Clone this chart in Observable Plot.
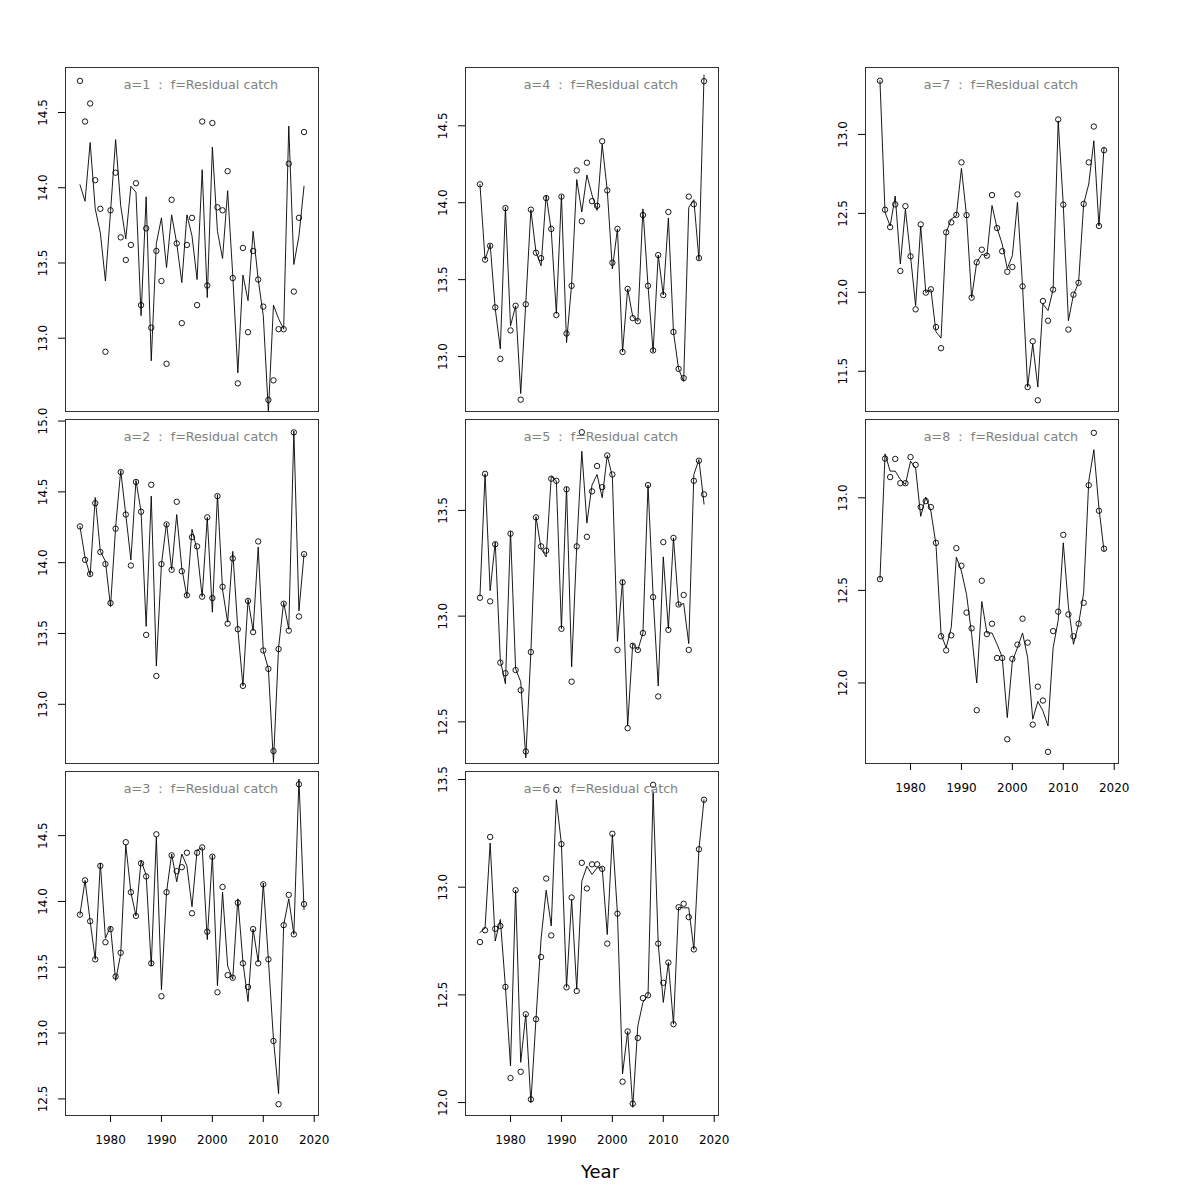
<!DOCTYPE html>
<html><head><meta charset="utf-8">
<script src="https://cdn.jsdelivr.net/npm/d3@7"></script>
<script src="https://cdn.jsdelivr.net/npm/@observablehq/plot@0.6"></script>
<style>
body{margin:0;background:#fff;}
#chart{position:relative;width:1200px;height:1200px;background:#fff;font-family:"DejaVu Sans",sans-serif;color:#000;}
#xlab{position:absolute;left:0;width:1200px;top:1159px;text-align:center;font-size:18px;line-height:26px;}
</style></head>
<body><div id="chart"><div id="xlab">Year</div></div>
<script>
const years = [1974,1975,1976,1977,1978,1979,1980,1981,1982,1983,1984,1985,1986,1987,1988,1989,1990,1991,1992,1993,1994,1995,1996,1997,1998,1999,2000,2001,2002,2003,2004,2005,2006,2007,2008,2009,2010,2011,2012,2013,2014,2015,2016,2017,2018];
const xTicks = [1980,1990,2000,2010,2020];

const obs1 = [14.71,14.44,14.56,14.05,13.86,12.91,13.85,14.10,13.67,13.52,13.62,14.03,13.22,13.73,13.07,13.58,13.38,12.83,13.92,13.63,13.10,13.62,13.80,13.22,14.44,13.35,14.43,13.87,13.85,14.11,13.40,12.70,13.60,13.04,13.58,13.39,13.21,12.59,12.72,13.06,13.06,14.16,13.31,13.80,14.37];
const fit1 = [14.02,13.91,14.30,13.86,13.70,13.38,13.84,14.32,13.88,13.66,14.01,13.97,13.15,13.94,12.85,13.63,13.80,13.47,13.82,13.63,13.37,13.82,13.68,13.39,14.12,13.27,14.27,13.71,13.53,13.98,13.42,12.77,13.42,13.25,13.71,13.39,13.15,12.51,13.22,13.13,13.06,14.41,13.49,13.68,14.01];
const obs2 = [14.256,14.02,13.92,14.42,14.075,13.99,13.715,14.24,14.64,14.34,13.98,14.57,14.36,13.49,14.55,13.20,13.99,14.27,13.95,14.43,13.94,13.77,14.18,14.115,13.76,14.32,13.75,14.47,13.83,13.57,14.03,13.53,13.13,13.73,13.51,14.15,13.38,13.25,12.67,13.39,13.71,13.52,14.92,13.62,14.06];
const fit2 = [14.256,14.035,13.91,14.46,14.08,14.01,13.69,14.25,14.65,14.34,14.02,14.58,14.36,13.55,14.47,13.27,13.99,14.28,13.95,14.34,13.96,13.76,14.235,14.09,13.76,14.32,13.65,14.48,13.81,13.58,14.08,13.53,13.13,13.74,13.52,14.11,13.38,13.25,12.59,13.40,13.72,13.53,14.93,13.66,14.06];
const obs3 = [13.90,14.16,13.85,13.56,14.27,13.69,13.79,13.43,13.61,14.45,14.07,13.89,14.29,14.19,13.53,14.51,13.28,14.07,14.35,14.23,14.26,14.37,13.91,14.37,14.41,13.77,14.34,13.31,14.11,13.44,13.42,13.99,13.53,13.35,13.79,13.53,14.13,13.56,12.94,12.46,13.82,14.05,13.75,14.89,13.98];
const fit3 = [13.90,14.16,13.85,13.56,14.29,13.72,13.81,13.40,13.60,14.43,14.07,13.89,14.31,14.20,13.51,14.49,13.33,14.07,14.36,14.15,14.36,14.27,13.96,14.39,14.41,13.71,14.35,13.36,14.07,13.51,13.41,14.02,13.54,13.24,13.79,13.54,14.14,13.56,12.95,12.54,13.82,14.02,13.75,14.93,13.94];
const obs4 = [14.12,13.63,13.72,13.32,12.985,13.965,13.17,13.33,12.72,13.34,13.955,13.675,13.64,14.03,13.83,13.27,14.04,13.15,13.46,14.21,13.88,14.26,14.01,13.98,14.40,14.08,13.61,13.83,13.03,13.44,13.25,13.23,13.92,13.46,13.04,13.66,13.40,13.94,13.16,12.92,12.86,14.04,13.99,13.64,14.79];
const fit4 = [14.12,13.63,13.73,13.31,13.05,13.97,13.20,13.33,12.76,13.35,13.955,13.68,13.59,14.05,13.82,13.28,14.05,13.09,13.47,14.15,13.94,14.18,14.05,13.95,14.38,14.08,13.57,13.83,13.03,13.44,13.26,13.23,13.96,13.46,13.03,13.66,13.40,13.90,13.16,12.92,12.84,13.97,14.02,13.63,14.83];
const obs5 = [13.087,13.673,13.07,13.34,12.78,12.73,13.39,12.745,12.65,12.36,12.83,13.467,13.33,13.31,13.65,13.64,12.94,13.60,12.69,13.33,13.87,13.375,13.59,13.71,13.61,13.76,13.67,12.84,13.16,12.47,12.86,12.84,12.92,13.62,13.09,12.62,13.35,12.935,13.37,13.055,13.10,12.84,13.64,13.735,13.576];
const fit5 = [13.095,13.673,13.12,13.35,12.79,12.68,13.40,12.75,12.69,12.33,12.83,13.47,13.32,13.28,13.66,13.64,12.94,13.61,12.76,13.33,13.78,13.44,13.62,13.67,13.56,13.76,13.66,12.88,13.17,12.48,12.87,12.84,12.92,13.62,13.095,12.67,13.28,12.94,13.37,13.05,13.06,12.87,13.67,13.74,13.53];
const obs6 = [12.745,12.80,13.233,12.807,12.82,12.537,12.114,12.986,12.143,12.41,12.015,12.387,12.676,13.04,12.776,13.452,13.20,12.535,12.952,12.518,13.113,12.994,13.106,13.106,13.085,12.738,13.248,12.877,12.097,12.33,11.995,12.30,12.485,12.498,13.475,12.738,12.556,12.65,12.364,12.907,12.923,12.861,12.711,13.176,13.406];
const fit6 = [12.79,12.81,13.205,12.75,12.85,12.537,12.17,12.986,12.187,12.41,12.0,12.387,12.76,12.986,12.82,13.406,13.20,12.535,12.943,12.526,13.028,13.097,13.059,13.09,13.09,12.78,13.244,12.877,12.133,12.33,11.978,12.356,12.465,12.498,13.444,12.738,12.465,12.65,12.364,12.907,12.904,12.904,12.711,13.176,13.406];
const obs7 = [13.34,12.523,12.413,12.557,12.135,12.546,12.228,11.892,12.43,11.998,12.019,11.78,11.646,12.38,12.443,12.49,12.823,12.489,11.966,12.19,12.27,12.232,12.616,12.407,12.26,12.13,12.16,12.62,12.038,11.40,11.69,11.316,11.945,11.82,12.017,13.095,12.555,11.764,11.985,12.06,12.56,12.823,13.05,12.42,12.90];
const fit7 = [13.34,12.506,12.42,12.61,12.18,12.527,12.228,11.916,12.42,11.998,12.019,11.75,11.71,12.38,12.464,12.485,12.785,12.485,11.966,12.19,12.24,12.232,12.55,12.407,12.306,12.15,12.232,12.57,12.038,11.40,11.673,11.40,11.926,11.884,12.017,13.086,12.555,11.82,11.985,12.06,12.56,12.686,12.96,12.42,12.918];
const obs8 = [12.561,13.212,13.112,13.21,13.079,13.079,13.22,13.178,12.95,12.982,12.95,12.757,12.252,12.176,12.257,12.728,12.633,12.38,12.295,11.853,12.552,12.264,12.32,12.135,12.135,11.696,12.13,12.207,12.347,12.218,11.775,11.98,11.905,11.628,12.28,12.385,12.80,12.37,12.252,12.32,12.433,13.068,13.351,12.93,12.725];
const fit8 = [12.561,13.237,13.144,13.144,13.10,13.072,13.198,13.16,12.90,13.004,12.928,12.748,12.263,12.19,12.30,12.68,12.604,12.478,12.263,12.00,12.44,12.27,12.27,12.209,12.14,11.813,12.119,12.19,12.27,12.137,11.804,11.90,11.849,11.768,12.19,12.338,12.757,12.415,12.209,12.317,12.487,13.09,13.26,12.946,12.712];

const yTicks1 = [13.0,13.5,14.0,14.5];
const yTicks2 = [13.0,13.5,14.0,14.5,15.0];
const yTicks3 = [12.5,13.0,13.5,14.0,14.5];
const yTicks4 = [13.0,13.5,14.0,14.5];
const yTicks5 = [12.5,13.0,13.5];
const yTicks6 = [12.0,12.5,13.0,13.5];
const yTicks7 = [11.5,12.0,12.5,13.0];
const yTicks8 = [12.0,12.5,13.0];

// layout
const W = 253, H = 344;
const colX = [65, 465, 865], rowY = [67, 419, 770.5];
const xDomain = [1971.16, 2020.84];
const panels = [
  {age:1, obs:obs1, fit:fit1, ticks:yTicks1, col:0, row:0, dom:[12.513,14.799], xaxis:false},
  {age:2, obs:obs2, fit:fit2, ticks:yTicks2, col:0, row:1, dom:[12.582,15.011], xaxis:false},
  {age:3, obs:obs3, fit:fit3, ticks:yTicks3, col:0, row:2, dom:[12.374,14.987], xaxis:true},
  {age:4, obs:obs4, fit:fit4, ticks:yTicks4, col:1, row:0, dom:[12.643,14.879], xaxis:false},
  {age:5, obs:obs5, fit:fit5, ticks:yTicks5, col:1, row:1, dom:[12.303,13.930], xaxis:false},
  {age:6, obs:obs6, fit:fit6, ticks:yTicks6, col:1, row:2, dom:[11.940,13.537], xaxis:true},
  {age:7, obs:obs7, fit:fit7, ticks:yTicks7, col:2, row:0, dom:[11.245,13.424], xaxis:false},
  {age:8, obs:obs8, fit:fit8, ticks:yTicks8, col:2, row:1, dom:[11.565,13.423], xaxis:true}
];

const chart = document.getElementById("chart");
const ml = 50, mt = 14, mr = 8, mb = 46;
for (const p of panels) {
  const data = years.map((yr, i) => ({year: yr, obs: p.obs[i], fit: p.fit[i]}));
  const marks = [
    Plot.line(data, {x: "year", y: "fit", stroke: "#000", strokeWidth: 0.9}),
    Plot.dot(data, {x: "year", y: "obs", r: 2.7, stroke: "#000", strokeWidth: 0.9, fill: "none"}),
    Plot.text([`a=${p.age}  :  f=Residual catch`], {frameAnchor: "top", dx: 9, dy: 17, lineAnchor: "middle", fill: "#808080", fontSize: 12.7}),
    Plot.axisY({ticks: p.ticks, tickSize: 7, tickFormat: () => "", label: null}),
    Plot.text(p.ticks, {y: d => d, text: d => d.toFixed(1), frameAnchor: "left", dx: -22.5, rotate: -90, textAnchor: "middle", lineAnchor: "middle", fontSize: 12, fill: "#000"}),
    Plot.frame({stroke: "#333", strokeWidth: 1})
  ];
  if (p.xaxis) marks.push(Plot.axisX({ticks: xTicks, tickSize: 7, tickPadding: 13, tickFormat: d => String(d), fontSize: 12, label: null}));
  const svg = Plot.plot({
    width: ml + W + mr, height: mt + H + mb,
    marginLeft: ml, marginTop: mt, marginRight: mr, marginBottom: mb,
    x: {domain: xDomain, axis: null, label: null},
    y: {domain: p.dom, axis: null, label: null},
    style: {background: "transparent", overflow: "visible", fontFamily: "DejaVu Sans", fontSize: "12px", color: "#000"},
    marks
  });
  svg.style.position = "absolute";
  svg.style.left = (colX[p.col] - ml) + "px";
  svg.style.top = (rowY[p.row] - mt) + "px";
  chart.appendChild(svg);
}
</script>
</body></html>
